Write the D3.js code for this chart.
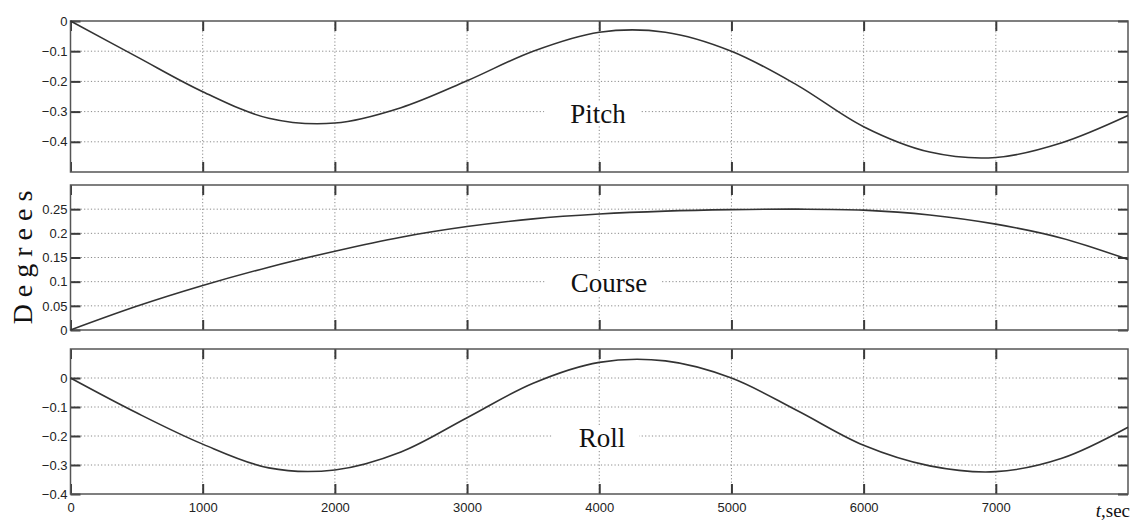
<!DOCTYPE html>
<html><head><meta charset="utf-8">
<script src="https://cdn.jsdelivr.net/npm/d3@7"></script>
<style>
html,body{margin:0;padding:0;background:#fff;}
svg{display:block;}
</style></head>
<body>
<svg id="chart" width="1132" height="521"></svg>
<script>
// ---- data ----
const time = [0,500,1000,1500,2000,2500,3000,3500,4000,4500,5000,5500,6000,6500,7000,7500,8000];
const pitch = [0,-0.118,-0.234,-0.322,-0.338,-0.287,-0.198,-0.1,-0.037,-0.037,-0.1,-0.213,-0.35,-0.434,-0.452,-0.403,-0.313];
const course = [0,0.049,0.092,0.13,0.163,0.192,0.214,0.23,0.24,0.246,0.249,0.25,0.248,0.238,0.219,0.19,0.146];
const roll = [0,-0.12,-0.228,-0.31,-0.317,-0.255,-0.137,-0.018,0.054,0.059,0.0,-0.113,-0.232,-0.303,-0.323,-0.277,-0.17];
const xTicks = [0,1000,2000,3000,4000,5000,6000,7000];
const pitchTicks = [0,-0.1,-0.2,-0.3,-0.4];
const courseTicks = [0,0.05,0.1,0.15,0.2,0.25];
const rollTicks = [0,-0.1,-0.2,-0.3,-0.4];
const panelNames = ["Pitch","Course","Roll"];
const yTitle = "Degrees";

const svg = d3.select("#chart");
const x = d3.scaleLinear().domain([0,8000]).range([70.5,1128]);

const panels = [
  {name:panelNames[0], values:pitch, domain:[-0.5,0], range:[172,21], ticks:pitchTicks, grid:[-0.1,-0.2,-0.3,-0.4], fmt:d=>d===0?"0":d3.format(".1f")(d), label:[598,123]},
  {name:panelNames[1], values:course, domain:[0,0.3], range:[330,185], ticks:courseTicks, grid:[0.05,0.1,0.15,0.2,0.25], fmt:d=>d===0?"0":String(d), label:[609,292]},
  {name:panelNames[2], values:roll, domain:[-0.4,0.1], range:[494,349], ticks:rollTicks, grid:[0,-0.1,-0.2,-0.3], fmt:d=>d===0?"0":d3.format(".1f")(d), label:[602,447]}
];

const tickFont = "Liberation Sans Narrow, Arial Narrow, Liberation Sans, sans-serif";
const serif = "Liberation Serif, Times New Roman, serif";
panels.forEach((p,i)=>{
  const y = d3.scaleLinear().domain(p.domain).range(p.range);
  const g = svg.append("g");
  const [x0,x1] = x.range();
  const yTop = p.range[1], yBot = p.range[0];
  // grid
  g.selectAll(".hg").data(p.grid).join("line")
    .attr("x1",x0).attr("x2",x1).attr("y1",d=>y(d)).attr("y2",d=>y(d))
    .attr("stroke","#8a8a8a").attr("stroke-width",1).attr("stroke-dasharray","1.2,2.2");
  g.selectAll(".vg").data(xTicks.filter(d=>d>0)).join("line")
    .attr("x1",d=>x(d)).attr("x2",d=>x(d)).attr("y1",yTop).attr("y2",yBot)
    .attr("stroke","#8a8a8a").attr("stroke-width",1).attr("stroke-dasharray","1.2,2.2");
  // label background + label
  const lab = g.append("text").attr("x",p.label[0]).attr("y",p.label[1])
    .attr("text-anchor","middle").attr("font-family",serif)
    .attr("font-size",27).attr("fill","#111").text(p.name);
  const bb = lab.node().getBBox();
  g.insert("rect","text").attr("x",bb.x-26).attr("y",bb.y+3).attr("width",bb.width+40).attr("height",bb.height-6).attr("fill","#fff");
  // axes (inward ticks)
  const axL = d3.axisLeft(y).tickValues(p.ticks).tickSize(-10).tickPadding(3).tickFormat(p.fmt);
  const axR = d3.axisRight(y).tickValues(p.ticks).tickSize(-10).tickFormat("");
  const axT = d3.axisTop(x).tickValues(xTicks).tickSize(-10).tickFormat("");
  const axB = d3.axisBottom(x).tickValues(xTicks).tickSize(-10).tickFormat(i===2?d3.format("d"):"").tickPadding(9);
  [[axL,`translate(${x0},0)`],[axR,`translate(${x1},0)`],[axT,`translate(0,${yTop})`],[axB,`translate(0,${yBot})`]].forEach(([ax,tr])=>{
    const a = g.append("g").attr("transform",tr).call(ax);
    a.select(".domain").remove();
    a.selectAll(".tick line").attr("stroke","#3a3a3a").attr("stroke-width",2);
    a.selectAll(".tick text").attr("font-family",tickFont).attr("font-size",13).attr("fill","#222");
  });
  // frame
  g.append("rect").attr("x",x0).attr("y",yTop).attr("width",x1-x0).attr("height",yBot-yTop)
    .attr("fill","none").attr("stroke","#555").attr("stroke-width",1.5);
  // curve
  const line = d3.line().x((d,k)=>x(time[k])).y(d=>y(d)).curve(d3.curveCatmullRom.alpha(0.5));
  g.append("path").datum(p.values).attr("d",line).attr("fill","none")
    .attr("stroke","#333").attr("stroke-width",1.6);
});

// y-axis title
svg.append("text").attr("transform","translate(32,254) rotate(-90)")
  .attr("text-anchor","middle").attr("font-family",serif)
  .attr("font-size",28).attr("letter-spacing",7).attr("fill","#111").text(yTitle);

// x-axis title
const xt = svg.append("text").attr("x",1130).attr("y",517).attr("text-anchor","end")
  .attr("font-family",serif).attr("font-size",19).attr("fill","#111");
xt.append("tspan").attr("font-style","italic").text("t");
xt.append("tspan").text(",sec");
</script>
</body></html>
